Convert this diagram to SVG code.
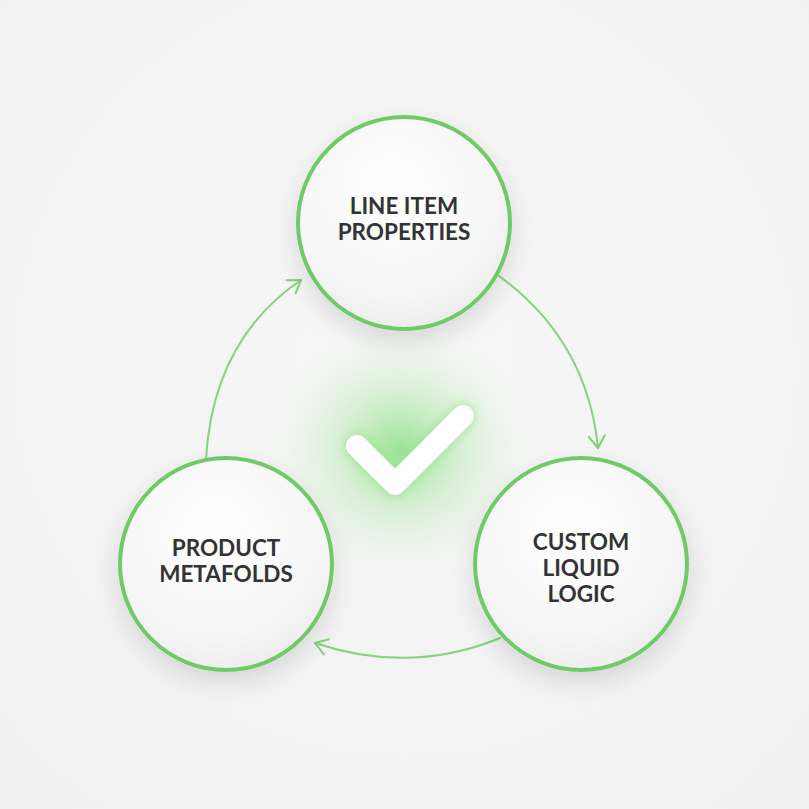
<svg xmlns="http://www.w3.org/2000/svg" width="809" height="809" viewBox="0 0 809 809">
<defs>
<radialGradient id="bg" cx="50%" cy="45%" r="70%"><stop offset="0" stop-color="#f7f7f7"/><stop offset="1" stop-color="#f1f1f1"/></radialGradient>
<radialGradient id="nodefill" cx="45%" cy="35%" r="70%"><stop offset="0" stop-color="#ffffff"/><stop offset="0.7" stop-color="#f6f6f6"/><stop offset="1" stop-color="#ebebeb"/></radialGradient>
<radialGradient id="glow" cx="50%" cy="50%" r="50%"><stop offset="0" stop-color="#7ddb72" stop-opacity="0.75"/><stop offset="0.45" stop-color="#a6e59d" stop-opacity="0.38"/><stop offset="1" stop-color="#d8f2d4" stop-opacity="0"/></radialGradient>
<filter id="shadow" x="-30%" y="-30%" width="160%" height="170%"><feDropShadow dx="0" dy="10" stdDeviation="12" flood-color="#000" flood-opacity="0.12"/></filter>
<filter id="blur" x="-50%" y="-50%" width="200%" height="200%"><feGaussianBlur stdDeviation="4"/></filter>
<marker id="arr" viewBox="0 0 20 20" refX="14" refY="10" markerWidth="20" markerHeight="20" markerUnits="userSpaceOnUse" orient="auto"><path d="M2,2 L14,10 L2,18" fill="none" stroke="#7fd277" stroke-width="2" stroke-linecap="round" stroke-linejoin="round"/></marker>
</defs>
<style>
.node circle{fill:url(#nodefill);stroke:#6ecb65;stroke-width:4;filter:url(#shadow)}
.node text{font-family:Lato,"Open Sans",sans-serif;font-weight:700;font-size:22.5px;fill:#333;text-anchor:middle}
.conn path{fill:none;stroke:#85d47c;stroke-width:2;stroke-linecap:round}
</style>
<rect width="809" height="809" fill="url(#bg)"/>
<ellipse cx="400" cy="450" rx="135" ry="130" fill="url(#glow)"/>
<g id="connectors" class="conn">
<path d="M499,276 Q587,340 598,448" marker-end="url(#arr)"/>
<path d="M500,638 Q410,675 315,643" marker-end="url(#arr)"/>
<path d="M206,459 Q213,340 301,280" marker-end="url(#arr)"/>
</g>
<g id="node-top" class="node"><circle cx="404" cy="223" r="106"/><text x="404" y="214">LINE ITEM</text><text x="404" y="240">PROPERTIES</text></g>
<g id="node-left" class="node"><circle cx="226" cy="564" r="106"/><text x="226" y="556">PRODUCT</text><text x="226" y="582">METAFOLDS</text></g>
<g id="node-right" class="node"><circle cx="581" cy="564" r="106"/><text x="581" y="550">CUSTOM</text><text x="581" y="576">LIQUID</text><text x="581" y="602">LOGIC</text></g>
<g id="check">
<path d="M357,446 L395,484 L463,416" fill="none" stroke="#8fe083" stroke-width="26" stroke-linecap="round" stroke-linejoin="round" opacity="0.6" filter="url(#blur)"/>
<path d="M357,446 L395,484 L463,416" fill="none" stroke="#ffffff" stroke-width="22" stroke-linecap="round" stroke-linejoin="round"/>
</g>
</svg>
